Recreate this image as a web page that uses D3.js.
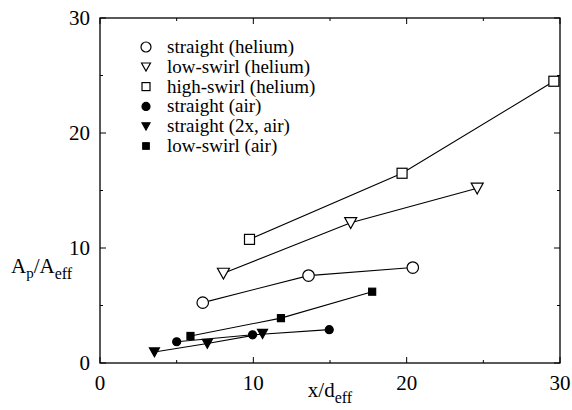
<!DOCTYPE html>
<html><head><meta charset="utf-8">
<script src="https://cdn.jsdelivr.net/npm/d3@7"></script>
<style>body{margin:0;background:#fff} svg text, svg tspan{font-family:"Times New Roman","Liberation Serif",Tinos,Times !important;}</style>
</head><body><svg id="c" width="572" height="410"></svg>
<script>
const xTicks=[0,5,10,15,20,25,30];
const yTicks=[0,5,10,15,20,25,30];
const tickLabels=[0,10,20,30];
const seriesNames=["straight (helium)","low-swirl (helium)","high-swirl (helium)","straight (air)","straight (2x, air)","low-swirl (air)"];
const seriesSymbols=["circle","triangle","square","circle","triangle","square"];
const seriesFilled=[false,false,false,true,true,true];
const straightHeliumX=[6.7,13.6,20.4], straightHeliumY=[5.25,7.6,8.3];
const lowSwirlHeliumX=[8.05,16.35,24.6], lowSwirlHeliumY=[7.8,12.2,15.2];
const highSwirlHeliumX=[9.75,19.7,29.6], highSwirlHeliumY=[10.75,16.5,24.5];
const straightAirX=[5.0,9.95,14.95], straightAirY=[1.85,2.45,2.9];
const straight2xAirX=[3.55,7.0,10.6], straight2xAirY=[0.95,1.7,2.55];
const lowSwirlAirX=[5.9,11.8,17.75], lowSwirlAirY=[2.35,3.9,6.2];
const seriesX=[straightHeliumX,lowSwirlHeliumX,highSwirlHeliumX,straightAirX,straight2xAirX,lowSwirlAirX];
const seriesY=[straightHeliumY,lowSwirlHeliumY,highSwirlHeliumY,straightAirY,straight2xAirY,lowSwirlAirY];

const FONT='"Times New Roman"';
const svg=d3.select("#c").style("font-family",FONT);
const L=100,R=560,T=18,B=363;
const x=d3.scaleLinear().domain([0,30]).range([L,R]);
const y=d3.scaleLinear().domain([0,30]).range([B,T]);

svg.append("rect").attr("x",L).attr("y",T).attr("width",R-L).attr("height",B-T).attr("fill","none").attr("stroke","#000").attr("stroke-width",1.3);
const tl=v=>v%10===0?6:3;
const g=svg.append("g").attr("stroke","#000").attr("stroke-width",1);
xTicks.forEach(v=>{
  g.append("line").attr("x1",x(v)).attr("x2",x(v)).attr("y1",B).attr("y2",B-tl(v));
  g.append("line").attr("x1",x(v)).attr("x2",x(v)).attr("y1",T).attr("y2",T+tl(v));
});
yTicks.forEach(v=>{
  g.append("line").attr("y1",y(v)).attr("y2",y(v)).attr("x1",L).attr("x2",L+tl(v));
  g.append("line").attr("y1",y(v)).attr("y2",y(v)).attr("x1",R).attr("x2",R-tl(v));
});
tickLabels.forEach(v=>{
  svg.append("text").attr("x",x(v)).attr("y",B+27).attr("text-anchor","middle").style("font-family",FONT).attr("font-size",21).text(v);
  svg.append("text").attr("x",L-10).attr("y",y(v)+7).attr("text-anchor","end").style("font-family",FONT).attr("font-size",21).text(v);
});
const xt=svg.append("text").attr("x",330).attr("y",397).attr("text-anchor","middle").style("font-family",FONT).attr("font-size",21);
xt.append("tspan").text("x/d");
xt.append("tspan").attr("dy",6).attr("font-size",16).text("eff");
const yt=svg.append("text").attr("x",11).attr("y",273).style("font-family",FONT).attr("font-size",21);
yt.append("tspan").text("A");
yt.append("tspan").attr("dy",5).attr("font-size",15).text("p");
yt.append("tspan").attr("dy",-5).text("/A");
yt.append("tspan").attr("dy",6).attr("font-size",16).text("eff");

function marker(sel,sym,filled,s){
  let el;
  if(sym==="circle") el=sel.append("circle").attr("r",s/2);
  else if(sym==="square") el=sel.append("rect").attr("x",-s/2).attr("y",-s/2).attr("width",s).attr("height",s);
  else el=sel.append("path").attr("d",`M${-s/2},${-s*0.42}L${s/2},${-s*0.42}L0,${s*0.48}Z`);
  el.attr("fill",filled?"#000":"#fff").attr("stroke","#000").attr("stroke-width",1.2);
}
const sizeOf=(i)=>{
  const sym=seriesSymbols[i], f=seriesFilled[i];
  if(!f) return sym==="circle"?11.5:(sym==="square"?10:12);
  return sym==="circle"?8:(sym==="square"?7:10);
};
const line=d3.line().x(d=>x(d[0])).y(d=>y(d[1]));
seriesX.forEach((xs,i)=>{
  const pts=xs.map((v,j)=>[v,seriesY[i][j]]);
  svg.append("path").attr("d",line(pts)).attr("fill","none").attr("stroke","#000").attr("stroke-width",1.1);
});
seriesX.forEach((xs,i)=>{
  xs.forEach((v,j)=>{
    const gg=svg.append("g").attr("transform",`translate(${x(v)},${y(seriesY[i][j])})`);
    marker(gg,seriesSymbols[i],seriesFilled[i],sizeOf(i));
  });
});
seriesNames.forEach((n,i)=>{
  const ly=47+i*19.8;
  const gg=svg.append("g").attr("transform",`translate(146,${ly})`);
  const s=seriesFilled[i]?(seriesSymbols[i]==="circle"?8:(seriesSymbols[i]==="square"?6.5:8)):(seriesSymbols[i]==="circle"?10:(seriesSymbols[i]==="square"?8:9));
  marker(gg,seriesSymbols[i],seriesFilled[i],s);
  svg.append("text").attr("x",167).attr("y",ly+6).style("font-family",FONT).attr("font-size",19).text(n);
});
</script></body></html>
